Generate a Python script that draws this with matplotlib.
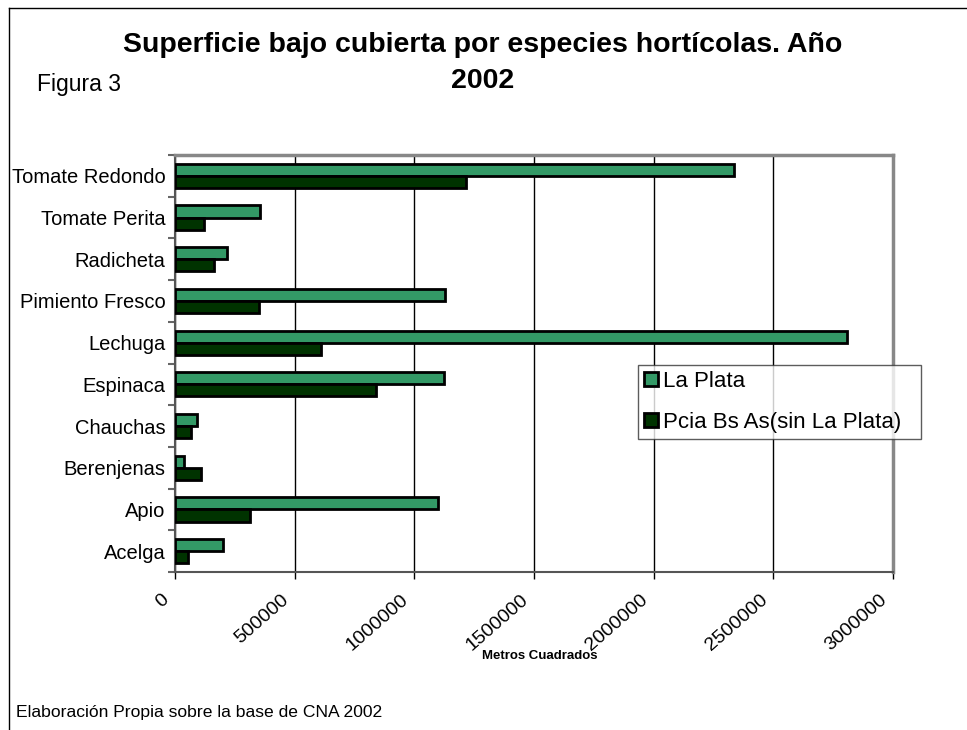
import matplotlib
matplotlib.use("Agg")
import matplotlib.pyplot as plt
import matplotlib.transforms as mtransforms
import numpy as np
from matplotlib.lines import Line2D
from matplotlib.patches import Patch

plt.rcParams['font.family'] = ['Liberation Sans', 'DejaVu Sans']

categories = ["Acelga", "Apio", "Berenjenas", "Chauchas", "Espinaca", "Lechuga",
              "Pimiento Fresco", "Radicheta", "Tomate Perita", "Tomate Redondo"]
la_plata = [201000, 1100000, 36000, 94000, 1126000, 2806000, 1127000, 217000, 356000, 2334000]
pcia = [55000, 314000, 108000, 67000, 839000, 611000, 349000, 161000, 122000, 1217000]
series_names = ["La Plata", "Pcia Bs As(sin La Plata)"]
xticks = [0, 500000, 1000000, 1500000, 2000000, 2500000, 3000000]
xtick_labels = ["0", "500000", "1000000", "1500000", "2000000", "2500000", "3000000"]

c_lp = "#339966"
c_pc = "#003300"

fig = plt.figure(figsize=(9.67, 7.30), dpi=100)
ax = fig.add_axes([175/967, 1-572/730, (893-175)/967, (572-155)/730])

y = np.arange(len(categories))
h = 0.29
ax.barh(y + h/2, la_plata, height=h, color=c_lp, edgecolor="black", linewidth=2, zorder=3)
ax.barh(y - h/2, pcia, height=h, color=c_pc, edgecolor="black", linewidth=2, zorder=3)

ax.set_xlim(0, 3000000)
ax.set_ylim(-0.5, len(categories) - 0.5)
ax.set_xticks(xticks)
ax.set_xticklabels(xtick_labels, rotation=41, ha="right", va="center",
                   rotation_mode="anchor", fontsize=14)
ax.set_yticks(y)
ax.set_yticklabels(categories, fontsize=14.5)
ax.set_yticks(np.arange(-0.5, len(categories), 1), minor=True)
ax.tick_params(axis="y", which="major", length=0, pad=7)
ax.tick_params(axis="y", which="minor", length=5, width=1.5, color="#666666", direction="out")
ax.tick_params(axis="x", which="major", length=5, width=1, color="black", direction="out", pad=0)

offset = mtransforms.ScaledTranslation(-8/100, -19/100, fig.dpi_scale_trans)
for lab in ax.get_xticklabels():
    lab.set_transform(lab.get_transform() + offset)

ax.grid(axis="x", color="black", linewidth=1, zorder=0)
for s in ["top", "right"]:
    ax.spines[s].set_color("#888888")
    ax.spines[s].set_linewidth(2.5)
for s in ["left", "bottom"]:
    ax.spines[s].set_color("#555555")
    ax.spines[s].set_linewidth(1.5)

fig.text(540/967, 1-656/730, "Metros Cuadrados", ha="center", va="center",
         fontsize=9.5, fontweight="bold")

handles = [Patch(facecolor=c_lp, edgecolor="black", linewidth=2),
           Patch(facecolor=c_pc, edgecolor="black", linewidth=2)]
leg = ax.legend(handles, series_names, loc="upper left", mode="expand",
                bbox_to_anchor=((638-175)/718, 1-(365-155)/417, (921-638)/718, 0.0),
                fontsize=16, frameon=True, fancybox=False, edgecolor="#333333",
                handlelength=0.65, handleheight=0.65, handletextpad=0.2,
                borderpad=0.26, labelspacing=0.9, borderaxespad=0)
leg.get_frame().set_linewidth(1)

fig.text(483/967, 1-45/730, "Superficie bajo cubierta por especies hortícolas. Año",
         ha="center", va="center", fontsize=20.5, fontweight="bold")
fig.text(483/967, 1-81/730, "2002", ha="center", va="center", fontsize=20.5, fontweight="bold")
fig.text(37/967, 1-85/730, "Figura 3", ha="left", va="center", fontsize=16.5)
fig.text(16/967, 1-712/730, "Elaboración Propia sobre la base de CNA 2002",
         ha="left", va="center", fontsize=12.6)

fig.add_artist(Line2D([9/967, 9/967], [0, 1-8/730], transform=fig.transFigure,
                      color="black", linewidth=1))
fig.add_artist(Line2D([9/967, 1], [1-8/730, 1-8/730], transform=fig.transFigure,
                      color="black", linewidth=1))

fig.savefig("out.png", dpi=100)
